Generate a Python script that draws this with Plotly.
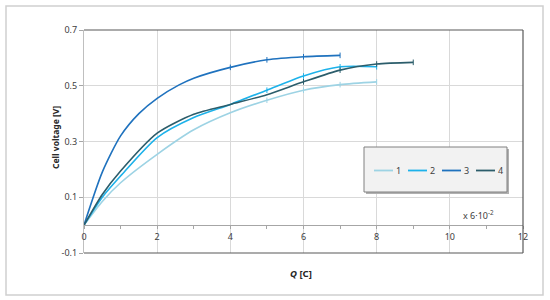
import plotly.graph_objects as go

# ---- data ----
names = ["1", "2", "3", "4"]
colors = ["#9dd3e4", "#1db2ea", "#1f72be", "#2c5d6b"]

x1 = [0, 0.5, 1, 2, 3, 4, 5, 6, 7, 8]
y1 = [0, 0.085, 0.152, 0.254, 0.342, 0.403, 0.448, 0.484, 0.504, 0.514]

x2 = [0, 0.5, 1, 2, 3, 4, 5, 6, 7, 8]
y2 = [0, 0.10, 0.176, 0.314, 0.386, 0.433, 0.484, 0.535, 0.568, 0.568]

x3 = [0, 0.5, 1, 1.5, 2, 2.6, 3, 4, 5, 6, 7]
y3 = [0, 0.19, 0.32, 0.40, 0.455, 0.503, 0.527, 0.566, 0.593, 0.604, 0.609]

x4 = [0, 0.5, 1, 2, 3, 4, 5, 6, 7, 8, 9]
y4 = [0, 0.11, 0.194, 0.33, 0.398, 0.433, 0.468, 0.514, 0.556, 0.578, 0.584]

xs = [x1, x2, x3, x4]
ys = [y1, y2, y3, y4]

x_range = [0, 12]
y_range = [-0.1, 0.7]
y_ticks = [-0.1, 0.1, 0.3, 0.5, 0.7]
y_ticktext = ["-0.1", "0.1", "0.3", "0.5", "0.7"]
x_ticks = [0, 2, 4, 6, 8, 10, 12]

font_family = "Noto Sans"

fig = go.Figure()
for xv, yv, nm, c in zip(xs, ys, names, colors):
    fig.add_trace(go.Scatter(
        x=xv, y=yv, name=nm, mode="lines",
        line=dict(color=c, width=1.6, shape="spline", smoothing=0.7),
        showlegend=False,
    ))
    # small tick-like markers at the data points
    fig.add_trace(go.Scatter(
        x=xv[-4:], y=yv[-4:], mode="markers",
        marker=dict(symbol="line-ns", size=4, line=dict(color=c, width=1)),
        showlegend=False, hoverinfo="skip",
    ))

L, R, T, B = 84, 27, 30, 47
W, H = 550, 300
pw, ph = W - L - R, H - T - B

zero_pos = (0 - y_range[0]) / (y_range[1] - y_range[0])

fig.update_layout(
    width=W, height=H,
    margin=dict(l=L, r=R, t=T, b=B, autoexpand=False),
    paper_bgcolor="white", plot_bgcolor="white",
    font=dict(family=font_family, size=9, color="#404040"),
    xaxis=dict(
        range=x_range, tickvals=x_ticks, showgrid=True, gridcolor="#d9d9d9",
        gridwidth=1, zeroline=False, anchor="free", position=zero_pos,
        showline=True, linecolor="#a6a6a6", linewidth=1,
        ticks="outside", ticklen=3, tickcolor="#a6a6a6",
        minor=dict(dtick=1, ticks="outside", ticklen=3, tickcolor="#a6a6a6", showgrid=False),
        tickfont=dict(size=9, color="#404040"),
    ),
    yaxis=dict(
        range=y_range, tickvals=y_ticks, ticktext=y_ticktext,
        showgrid=True, gridcolor="#d9d9d9", gridwidth=1, zeroline=False,
        showline=True, linecolor="#bfbfbf", linewidth=1,
        ticks="outside", ticklen=4, tickcolor="#a6a6a6",
        tickfont=dict(size=9, color="#404040"),
    ),
)

# plot-area frame (top, right, bottom) in dark gray
frame = dict(color="#595959", width=1.2)
fig.add_shape(type="line", xref="x domain", yref="y domain", x0=0, x1=1, y0=1, y1=1, line=frame)
fig.add_shape(type="line", xref="x domain", yref="y domain", x0=1, x1=1, y0=0, y1=1, line=frame)
fig.add_shape(type="line", xref="x domain", yref="y domain", x0=0, x1=1, y0=0, y1=0, line=frame)


def px(xp):
    return (xp - L) / pw


def py(yp):
    return (H - B - yp) / ph


# outer chart border
fig.add_shape(type="rect", xref="paper", yref="paper",
              x0=px(6), x1=px(543), y0=py(295), y1=py(6),
              line=dict(color="#d0d0d0", width=1.5), layer="below")

# legend box (with shadow)
lx0, lx1, ly0, ly1 = 364, 507, 147, 192
fig.add_shape(type="rect", xref="paper", yref="paper",
              x0=px(lx0 + 2), x1=px(lx1 + 2), y0=py(ly1 + 2), y1=py(ly0 + 2),
              line=dict(width=0), fillcolor="#b0b0b0")
fig.add_shape(type="rect", xref="paper", yref="paper",
              x0=px(lx0), x1=px(lx1), y0=py(ly1), y1=py(ly0),
              line=dict(color="#808080", width=1), fillcolor="#f2f2f2")
leg_y = 170.5
for i, (nm, c) in enumerate(zip(names, colors)):
    sx = 374 + i * 34
    fig.add_shape(type="line", xref="paper", yref="paper",
                  x0=px(sx), x1=px(sx + 19), y0=py(leg_y), y1=py(leg_y),
                  line=dict(color=c, width=1.8))
    fig.add_annotation(xref="paper", yref="paper", x=px(sx + 20), y=py(leg_y),
                       text=nm, showarrow=False, xanchor="left", yanchor="middle",
                       font=dict(size=9, color="#404040"))

# scale note
fig.add_annotation(xref="paper", yref="paper", x=px(478), y=py(215),
                   text="x 6·10<sup>-2</sup>", showarrow=False,
                   xanchor="center", yanchor="middle",
                   font=dict(size=9, color="#404040"))

# axis titles
fig.add_annotation(xref="paper", yref="paper", x=px(301), y=py(273),
                   text="<b><i>Q</i> [C]</b>", showarrow=False,
                   xanchor="center", yanchor="middle",
                   font=dict(size=9.5, color="#262626"))
fig.add_annotation(xref="paper", yref="paper", x=px(55), y=py(138),
                   text="<b>Cell voltage [V]</b>", showarrow=False, textangle=-90,
                   xanchor="center", yanchor="middle",
                   font=dict(size=8.5, color="#262626"))

fig.write_html("out.html", config={"displayModeBar": False},
               post_script="document.body.style.margin='0';")
